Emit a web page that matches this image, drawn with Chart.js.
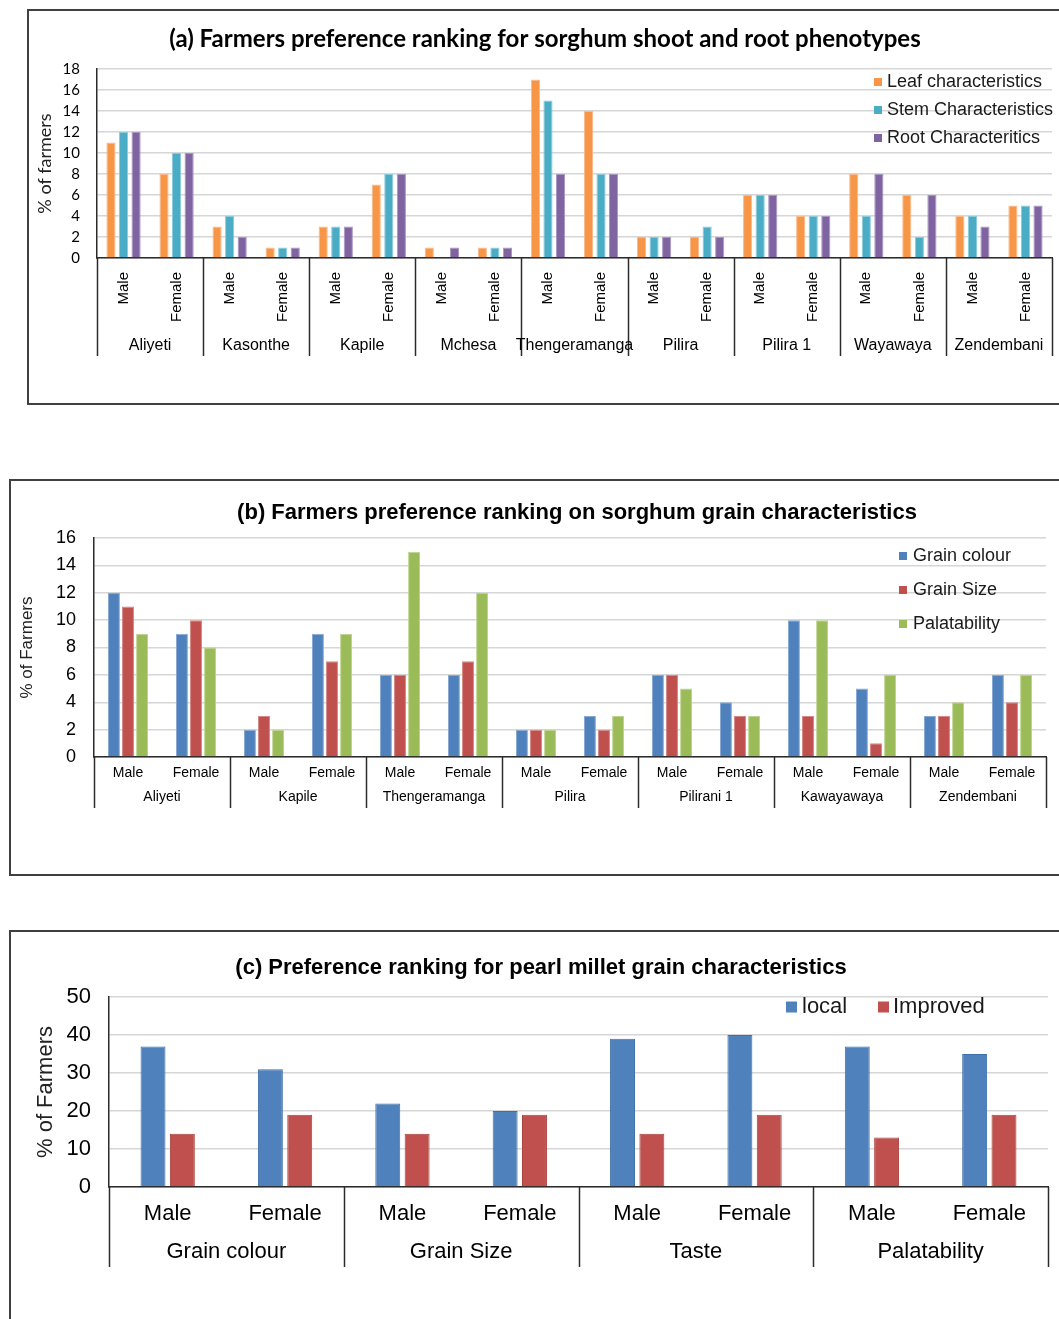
<!DOCTYPE html>
<html>
<head>
<meta charset="utf-8">
<script src="https://cdn.jsdelivr.net/npm/chart.js@4/dist/chart.umd.min.js"></script>
<style>
  html, body { margin: 0; padding: 0; background: #fff; }
  body { width: 1059px; height: 1319px; position: relative; overflow: hidden; }
  .frame { position: absolute; border: 2px solid #404040; box-sizing: border-box; }
  canvas { position: absolute; }
</style>
</head>
<body>
<div class="frame" style="left:27px;top:9px;width:1060px;height:396px"></div>
<div class="frame" style="left:9px;top:479px;width:1070px;height:397px"></div>
<div class="frame" style="left:9px;top:930px;width:1070px;height:420px"></div>

<canvas id="chartA" width="1032" height="396" style="left:27px;top:9px"></canvas>
<canvas id="chartB" width="1050" height="396" style="left:9px;top:479px"></canvas>
<canvas id="chartC" width="1050" height="389" style="left:9px;top:930px"></canvas>

<script>
// ---- (a) shoot and root phenotypes ----
const shootSites = ['Aliyeti', 'Kasonthe', 'Kapile', 'Mchesa', 'Thengeramanga', 'Pilira', 'Pilira 1', 'Wayawaya', 'Zendembani'];
const genders = ['Male', 'Female'];
// values per site, Male then Female
const leafChar = [11, 8, 3, 1, 3, 7, 1, 1, 17, 14, 2, 2, 6, 4, 8, 6, 4, 5];
const stemChar = [12, 10, 4, 1, 3, 8, 0, 1, 15, 8, 2, 3, 6, 4, 4, 2, 4, 5];
const rootChar = [12, 10, 2, 1, 3, 8, 1, 1, 8, 8, 2, 2, 6, 4, 8, 6, 3, 5];

// ---- (b) sorghum grain characteristics ----
const grainSites = ['Aliyeti', 'Kapile', 'Thengeramanga', 'Pilira', 'Pilirani 1', 'Kawayawaya', 'Zendembani'];
const grainColour = [12, 9, 2, 9, 6, 6, 2, 3, 6, 4, 10, 5, 3, 6];
const grainSize = [11, 10, 3, 7, 6, 7, 2, 2, 6, 3, 3, 1, 3, 4];
const palatability = [9, 8, 2, 9, 15, 12, 2, 3, 5, 3, 10, 6, 4, 6];

// ---- (c) pearl millet grain characteristics ----
const milletTraits = ['Grain colour', 'Grain Size', 'Taste', 'Palatability'];
const localVar = [37, 31, 22, 20, 39, 40, 37, 35];
const improvedVar = [14, 19, 14, 19, 14, 19, 13, 19];

const genderLabels = n => Array.from({ length: n }, () => genders).flat();

Chart.defaults.font.family = "'Liberation Sans', Arial, sans-serif";
Chart.defaults.color = '#000';

// Two-level category axis: separators between site groups and the group names
const groupAxis = {
  id: 'groupAxis',
  afterDraw(chart, args, o) {
    const { ctx, chartArea } = chart;
    const x = chart.scales.x;
    const per = o.perGroup;
    const n = o.groups.length;
    ctx.save();
    ctx.strokeStyle = o.lineColor;
    ctx.lineWidth = o.lineWidth;
    for (let g = 0; g <= n; g++) {
      const px = Math.round(x.getPixelForValue(g * per - 0.5)) + 0.5;
      ctx.beginPath();
      ctx.moveTo(px, chartArea.bottom);
      ctx.lineTo(px, o.bottom);
      ctx.stroke();
    }
    ctx.fillStyle = '#000';
    ctx.font = o.font;
    ctx.textAlign = 'center';
    ctx.textBaseline = 'middle';
    o.groups.forEach((name, g) => {
      const cx = (x.getPixelForValue(g * per - 0.5) + x.getPixelForValue((g + 1) * per - 0.5)) / 2;
      ctx.fillText(name, cx, o.labelY);
    });
    ctx.restore();
  }
};

// Square-marker legend placed inside the plot
const boxLegend = {
  id: 'boxLegend',
  afterDraw(chart, args, o) {
    const ctx = chart.ctx;
    ctx.save();
    ctx.font = o.font;
    ctx.textAlign = 'left';
    ctx.textBaseline = 'middle';
    chart.data.datasets.forEach((ds, i) => {
      const p = o.items[i];
      ctx.fillStyle = ds.backgroundColor;
      ctx.fillRect(p.mx, p.y - o.box / 2, o.box, o.box);
      ctx.fillStyle = '#1a1a1a';
      ctx.fillText(ds.label, p.tx, p.y);
    });
    ctx.restore();
  }
};

// Panel heading
const panelTitle = {
  id: 'panelTitle',
  afterDraw(chart, args, o) {
    const ctx = chart.ctx;
    ctx.save();
    ctx.font = o.font;
    ctx.fillStyle = '#000';
    ctx.textAlign = 'center';
    ctx.textBaseline = 'middle';
    ctx.fillText(o.text, o.x, o.y, o.maxWidth);
    ctx.restore();
  }
};

function barSet(label, data, fill, edge, catPct, barPct) {
  return { label, data, backgroundColor: fill, borderColor: edge, borderWidth: 1,
           categoryPercentage: catPct, barPercentage: barPct };
}

function baseOptions(p) {
  return {
    responsive: false,
    animation: false,
    devicePixelRatio: 1,
    layout: { padding: p.padding },
    plugins: {
      legend: { display: false },
      tooltip: { enabled: false },
      groupAxis: p.groupAxis,
      boxLegend: p.boxLegend,
      panelTitle: p.panelTitle
    },
    scales: {
      x: {
        grid: { display: false },
        border: { display: true, color: '#2b2b2b', width: 1.5 },
        ticks: Object.assign({ autoSkip: false, color: '#000' }, p.xTicks),
        afterFit(s) { s.height = p.xHeight; }
      },
      y: {
        min: 0, max: p.yMax,
        ticks: { stepSize: p.yStep, padding: p.yPad, font: p.yFont, color: '#000' },
        grid: { color: '#d6d6d6', lineWidth: 1.5, drawTicks: false },
        border: { display: true, color: '#2b2b2b', width: 1.5 },
        title: { display: true, text: p.yTitle, font: p.yTitleFont, color: '#222', padding: { top: p.yTitlePad, bottom: 0 } },
        afterFit(s) { s.width = p.yWidth; }
      }
    }
  };
}

// (a)
new Chart(document.getElementById('chartA'), {
  type: 'bar',
  data: {
    labels: genderLabels(shootSites.length),
    datasets: [
      barSet('Leaf characteristics', leafChar, '#F79646', '#FBB88A', 0.71, 0.73),
      barSet('Stem Characteristics', stemChar, '#4BACC6', '#8CCBDC', 0.71, 0.73),
      barSet('Root Characteritics', rootChar, '#8064A2', '#A995C2', 0.71, 0.73)
    ]
  },
  options: baseOptions({
    padding: { top: 60, right: 7, bottom: 47, left: 0 },
    xHeight: 100, yWidth: 70, yMax: 18, yStep: 2, yPad: 17,
    yFont: { family: 'Lato', size: 15 },
    yTitle: '% of farmers', yTitleFont: { family: 'Lato', size: 18 }, yTitlePad: 7,
    xTicks: { minRotation: 90, maxRotation: 90, padding: 6, font: { size: 15 } },
    groupAxis: { groups: shootSites, perGroup: 2, bottom: 347, labelY: 337, font: "16px 'Liberation Sans'", lineColor: '#2b2b2b', lineWidth: 1.5 },
    boxLegend: { font: "18px 'Liberation Sans'", box: 8, items: [
      { mx: 847, tx: 860, y: 73 }, { mx: 847, tx: 860, y: 101 }, { mx: 847, tx: 860, y: 129 }] },
    panelTitle: { text: '(a) Farmers preference ranking for sorghum shoot and root phenotypes', x: 518, y: 30, font: "bold 24px Lato", maxWidth: 763 }
  }),
  plugins: [groupAxis, boxLegend, panelTitle]
});

// (b)
new Chart(document.getElementById('chartB'), {
  type: 'bar',
  data: {
    labels: genderLabels(grainSites.length),
    datasets: [
      barSet('Grain colour', grainColour, '#4F81BD', '#8AAAD4', 0.62, 0.85),
      barSet('Grain Size', grainSize, '#C0504D', '#D68886', 0.62, 0.85),
      barSet('Palatability', palatability, '#9BBB59', '#BDD38F', 0.62, 0.85)
    ]
  },
  options: baseOptions({
    padding: { top: 59, right: 13, bottom: 58, left: 0 },
    xHeight: 60, yWidth: 85, yMax: 16, yStep: 2, yPad: 18,
    yFont: { size: 18 },
    yTitle: '% of Farmers', yTitleFont: { size: 17 }, yTitlePad: 8,
    xTicks: { maxRotation: 0, minRotation: 0, padding: 0, font: { size: 14 } },
    groupAxis: { groups: grainSites, perGroup: 2, bottom: 329, labelY: 318, font: "14px 'Liberation Sans'", lineColor: '#2b2b2b', lineWidth: 1.5 },
    boxLegend: { font: "18px 'Liberation Sans'", box: 8, items: [
      { mx: 890, tx: 904, y: 77 }, { mx: 890, tx: 904, y: 111 }, { mx: 890, tx: 904, y: 145 }] },
    panelTitle: { text: '(b) Farmers preference ranking on sorghum grain characteristics', x: 568, y: 34, font: "bold 22px 'Liberation Sans'", maxWidth: 688 }
  }),
  plugins: [groupAxis, boxLegend, panelTitle]
});

// (c)
new Chart(document.getElementById('chartC'), {
  type: 'bar',
  data: {
    labels: genderLabels(milletTraits.length),
    datasets: [
      barSet('local', localVar, '#4F81BD', '#3F6FA8', 0.5, 0.85),
      barSet('Improved', improvedVar, '#C0504D', '#A8403D', 0.5, 0.85)
    ]
  },
  options: baseOptions({
    padding: { top: 67, right: 11, bottom: 42, left: 0 },
    xHeight: 90, yWidth: 100, yMax: 50, yStep: 10, yPad: 18,
    yFont: { size: 22 },
    yTitle: '% of Farmers', yTitleFont: { size: 22 }, yTitlePad: 24,
    xTicks: { maxRotation: 0, minRotation: 0, padding: 6, font: { size: 22 } },
    groupAxis: { groups: milletTraits, perGroup: 2, bottom: 337, labelY: 322, font: "22px 'Liberation Sans'", lineColor: '#2b2b2b', lineWidth: 1.5 },
    boxLegend: { font: "22px 'Liberation Sans'", box: 11, items: [
      { mx: 777, tx: 793, y: 77 }, { mx: 869, tx: 884, y: 77 }] },
    panelTitle: { text: '(c) Preference ranking for pearl millet grain characteristics', x: 532, y: 38, font: "bold 22px 'Liberation Sans'", maxWidth: 618 }
  }),
  plugins: [groupAxis, boxLegend, panelTitle]
});
</script>
</body>
</html>
